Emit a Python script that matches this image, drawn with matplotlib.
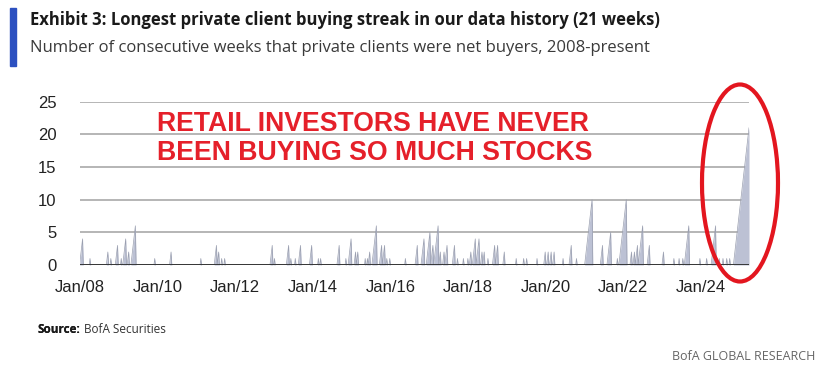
import pandas as pd
import matplotlib.pyplot as plt
import matplotlib.dates as mdates
from matplotlib.patches import Ellipse, Rectangle

# streaks of consecutive weeks with private clients as net buyers
# (week the streak ended, length in weeks)
streak_end = [
    "2008-01-25", "2008-04-04", "2008-09-19", "2008-10-17", "2008-12-19",
    "2009-01-23", "2009-03-06", "2009-04-03", "2009-06-05", "2009-12-04",
    "2010-05-07", "2011-02-11", "2011-07-08", "2011-07-29", "2011-08-26",
    "2011-09-23", "2012-12-14", "2013-01-04", "2013-05-17", "2013-06-07",
    "2013-07-19", "2013-09-06", "2013-12-20", "2014-02-21", "2014-03-14",
    "2014-09-05", "2014-11-07", "2014-12-26", "2015-02-06", "2015-02-27",
    "2015-05-08", "2015-05-29", "2015-06-19", "2015-08-21", "2015-10-09",
    "2015-11-06", "2015-11-27", "2015-12-25", "2016-05-20", "2016-09-09",
    "2016-11-11", "2017-01-06", "2017-02-03", "2017-03-24", "2017-04-14",
    "2017-05-19", "2017-06-16", "2017-08-25", "2017-09-22", "2017-11-17",
    "2017-12-29", "2018-01-26", "2018-03-09", "2018-04-13", "2018-05-11",
    "2018-06-01", "2018-07-06", "2018-09-07", "2018-10-05", "2018-12-07",
    "2019-03-29", "2019-06-07", "2019-07-05", "2019-10-11", "2019-12-27",
    "2020-01-24", "2020-02-21", "2020-03-20", "2020-06-12", "2020-08-28",
    "2020-10-16", "2021-03-12", "2021-06-18", "2021-09-03", "2021-11-05",
    "2022-01-28", "2022-03-18", "2022-04-15", "2022-05-13", "2022-07-01",
    "2022-09-02", "2023-01-13", "2023-04-21", "2023-06-09", "2023-07-14",
    "2023-09-08", "2023-12-22", "2024-02-23", "2024-05-17", "2024-06-21",
    "2024-07-26", "2024-08-30", "2024-09-27", "2025-03-28",
]
streak_weeks = [
    4, 1, 2, 1, 3,
    1, 4, 2, 6, 1,
    2, 1, 3, 2, 1,
    1, 3, 1, 3, 1,
    1, 3, 3, 1, 1,
    3, 1, 4, 2, 2,
    1, 1, 2, 6, 3,
    3, 1, 1, 1, 3,
    4, 5, 3, 6, 2,
    2, 3, 3, 1, 1,
    1, 2, 4, 4, 2,
    2, 1, 3, 3, 2,
    1, 1, 1, 1, 2,
    2, 2, 2, 1, 3,
    1, 10, 3, 5, 1,
    10, 2, 2, 3, 6,
    3, 2, 1, 1, 1,
    6, 1, 1, 6, 1,
    1, 1, 1, 21,
]
y_ticks = [0, 5, 10, 15, 20, 25]
x_tick_years = [2008, 2010, 2012, 2014, 2016, 2018, 2020, 2022, 2024]

start_date = pd.Timestamp("2008-01-04")
end_date = pd.Timestamp("2025-03-28")

# each streak counts up week by week, then drops back to zero
week = pd.Timedelta(weeks=1)
xs, ys = [start_date], [0]
for d, n in zip(pd.to_datetime(streak_end), streak_weeks):
    xs += [d - n * week, d]
    ys += [0, n]
    if d < end_date:
        xs.append(d + week)
        ys.append(0)
if xs[-1] < end_date:
    xs.append(end_date)
    ys.append(0)

fig = plt.figure(figsize=(8.26, 3.76), dpi=100)
ax = fig.add_axes([80 / 826, 1 - 265 / 376, (749 - 80) / 826, (265 - 101.7) / 376])

ax.fill_between(xs, ys, 0, color="#bcc1d4", linewidth=0, zorder=2)
ax.plot(xs, ys, color="#9a9fb0", linewidth=0.5, zorder=3)

ax.set_ylim(0, 25)
ax.set_xlim(pd.Timestamp("2008-01-01"), end_date)
ax.set_yticks(y_ticks)
ax.set_xticks([pd.Timestamp(f"{y}-01-01") for y in x_tick_years])
ax.xaxis.set_major_formatter(mdates.DateFormatter("Jan/%y"))
ax.grid(axis="y", color="#b5b5b5", linewidth=1.4, zorder=1)
ax.axhline(0, color="#2b2b2b", linewidth=2, zorder=4)
for s in ax.spines.values():
    s.set_visible(False)
ax.tick_params(length=0, labelsize=12, colors="#222222")
ax.tick_params(axis="y", pad=17)
ax.tick_params(axis="x", pad=11)
for lab in ax.get_xticklabels() + ax.get_yticklabels():
    lab.set_fontfamily("Liberation Sans")

# header
hfont = ["Open Sans", "DejaVu Sans"]
fig.add_artist(Rectangle((10 / 826, 1 - 66 / 376), 6 / 826, 58 / 376,
                         transform=fig.transFigure, color="#2c50c0"))
fig.text(30 / 826, 1 - 25 / 376,
         "Exhibit 3: Longest private client buying streak in our data history (21 weeks)",
         fontsize=12, fontweight="bold", family=hfont, color="#1a1a1a", va="baseline")
fig.text(30 / 826, 1 - 52 / 376,
         "Number of consecutive weeks that private clients were net buyers, 2008-present",
         fontsize=12, family=hfont, color="#3a3a3a", va="baseline")

# red annotation
fig.text(157 / 826, 1 - 130.7 / 376, "RETAIL INVESTORS HAVE NEVER",
         fontsize=19.2, fontweight="bold", family="Liberation Sans", color="#e5202a",
         va="baseline")
fig.text(157 / 826, 1 - 160 / 376, "BEEN BUYING SO MUCH STOCKS",
         fontsize=19.2, fontweight="bold", family="Liberation Sans", color="#e5202a",
         va="baseline")
fig.add_artist(Ellipse((740 / 826, 1 - 183 / 376), 76 / 826, 197 / 376,
                       transform=fig.transFigure, fill=False,
                       edgecolor="#e3161f", linewidth=3))

# footer
src = fig.text(38 / 826, 1 - 333 / 376, "Source:", fontsize=8.5, fontweight="bold",
               family=hfont, color="#1a1a1a", va="baseline")
fig.add_artist(src)
ax.annotate(" BofA Securities", xy=(1, 0), xycoords=src, va="bottom",
            fontsize=8.5, family=hfont, color="#333333", annotation_clip=False)
fig.text(815 / 826, 1 - 360 / 376, "BofA GLOBAL RESEARCH", fontsize=9,
         family=hfont, color="#666666", va="baseline", ha="right")

fig.savefig("out.png", dpi=100)
